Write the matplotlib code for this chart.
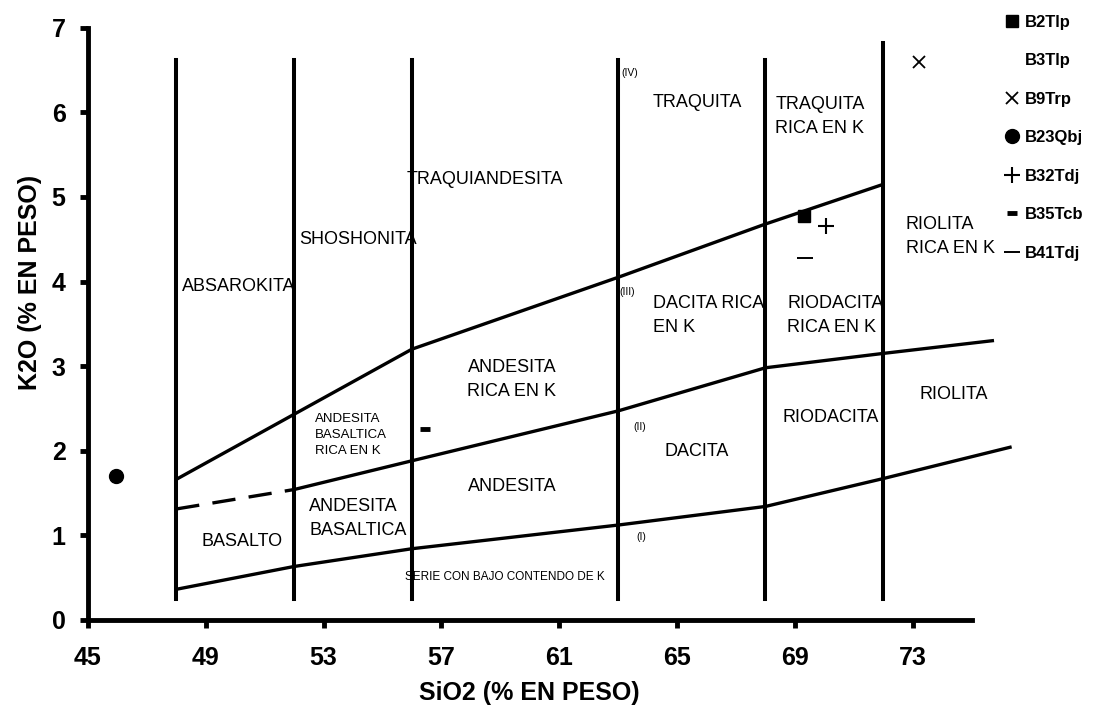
import numpy as np
import matplotlib
matplotlib.use("Agg")
import matplotlib.pyplot as plt

plt.rcParams['font.family'] = ['Liberation Sans', 'DejaVu Sans']

# boundary lines of the K2O - SiO2 diagram
upper_x = [48, 56, 63, 68, 72]
upper_y = [1.66, 3.20, 4.05, 4.68, 5.15]

mid_dash_x = [48, 52]
mid_dash_y = [1.31, 1.54]
mid_x = [52, 56, 63, 68, 72, 75.7]
mid_y = [1.54, 1.88, 2.47, 2.98, 3.15, 3.30]

low_x = [48, 52, 56, 63, 68, 72, 76.3]
low_y = [0.36, 0.63, 0.84, 1.12, 1.34, 1.67, 2.04]

vert_x = [48, 52, 56, 63, 68, 72]
vert_top = [6.62, 6.62, 6.62, 6.62, 6.62, 6.82]
vert_bottom = 0.24

# samples
samples = ["B2Tlp", "B3Tlp", "B9Trp", "B23Qbj", "B32Tdj", "B35Tcb", "B41Tdj"]
sio2 = [69.3, np.nan, 73.2, 45.95, 70.07, 56.46, 69.35]
k2o = [4.77, np.nan, 6.6, 1.70, 4.66, 2.25, 4.28]
styles = [
    dict(marker="s", ms=9),
    dict(marker="None"),
    dict(marker="x", ms=8, mew=1.3),
    dict(marker="o", ms=10),
    dict(marker="+", ms=12, mew=1.5),
    dict(marker="_", ms=7, mew=3.5),
    dict(marker="_", ms=12, mew=1.4),
]

# field names
big_labels = [
    ("TRAQUITA", 65.68, 6.12, "center"),
    ("TRAQUITA\nRICA EN K", 68.33, 5.95, "left"),
    ("TRAQUIANDESITA", 58.47, 5.21, "center"),
    ("SHOSHONITA", 52.18, 4.50, "left"),
    ("ABSAROKITA", 48.2, 3.94, "left"),
    ("RIOLITA\nRICA EN K", 72.76, 4.53, "left"),
    ("DACITA RICA\nEN K", 64.18, 3.60, "left"),
    ("RIODACITA\nRICA EN K", 68.74, 3.60, "left"),
    ("ANDESITA\nRICA EN K", 59.39, 2.84, "center"),
    ("RIODACITA", 70.2, 2.39, "center"),
    ("RIOLITA", 74.39, 2.66, "center"),
    ("DACITA", 65.65, 1.99, "center"),
    ("ANDESITA", 59.39, 1.57, "center"),
    ("ANDESITA\nBASALTICA", 52.52, 1.20, "left"),
    ("BASALTO", 50.24, 0.93, "center"),
]
small_labels = [
    ("ANDESITA\nBASALTICA\nRICA EN K", 52.72, 2.19, "left", 9.5),
    ("(IV)", 63.1, 6.47, "left", 7.5),
    ("(III)", 63.05, 3.88, "left", 7.5),
    ("(II)", 63.74, 2.28, "center", 7.5),
    ("(I)", 63.78, 0.98, "center", 7.5),
    ("SERIE CON BAJO CONTENDO DE K", 59.15, 0.50, "center", 8.5),
]

fig = plt.figure(figsize=(10.98, 7.14), dpi=100)
ax = fig.add_axes([0.080, 0.132, 0.805, 0.829])

lw = 2.4
ax.plot(upper_x, upper_y, "k-", lw=lw, solid_capstyle="butt")
ax.plot(mid_dash_x, mid_dash_y, "k--", lw=lw, dashes=(7, 4))
ax.plot(mid_x, mid_y, "k-", lw=lw, clip_on=False)
ax.plot(low_x, low_y, "k-", lw=lw, clip_on=False)
for x, top in zip(vert_x, vert_top):
    ax.plot([x, x], [vert_bottom, top], "k-", lw=2.9)

handles = []
for name, x, y, st in zip(samples, sio2, k2o, styles):
    h, = ax.plot([x], [y], color="black", ls="None", label=name, clip_on=False, **st)
    handles.append(h)

for txt, x, y, ha in big_labels:
    ax.text(x, y, txt, ha=ha, va="center", fontsize=13, linespacing=1.5)
for txt, x, y, ha, fs in small_labels:
    ax.text(x, y, txt, ha=ha, va="center", fontsize=fs, linespacing=1.45)

ax.set_xlim(45, 75)
ax.set_ylim(0, 7)
ax.set_xticks([45, 49, 53, 57, 61, 65, 69, 73])
ax.set_yticks(range(0, 8))
for s in ["top", "right"]:
    ax.spines[s].set_visible(False)
for s in ["left", "bottom"]:
    ax.spines[s].set_linewidth(3.5)
ax.tick_params(axis="both", direction="out", length=6, width=3.5, labelsize=18)
ax.tick_params(axis="x", pad=13)
ax.tick_params(axis="y", pad=10)
for lab in ax.get_xticklabels() + ax.get_yticklabels():
    lab.set_fontweight("bold")

ax.set_xlabel("SiO2 (% EN PESO)", fontsize=18, fontweight="bold", labelpad=8)
ax.set_ylabel("K2O (% EN PESO)", fontsize=18, fontweight="bold")
ax.yaxis.set_label_coords(-0.052, 0.57)

fig.legend(handles=handles, labels=samples, loc="upper left",
           bbox_to_anchor=(0.909, 0.989), frameon=False,
           prop=dict(weight="bold", size=12), handlelength=0.9,
           handletextpad=0.3, labelspacing=1.41, borderaxespad=0)

fig.savefig("out.png", dpi=100)
